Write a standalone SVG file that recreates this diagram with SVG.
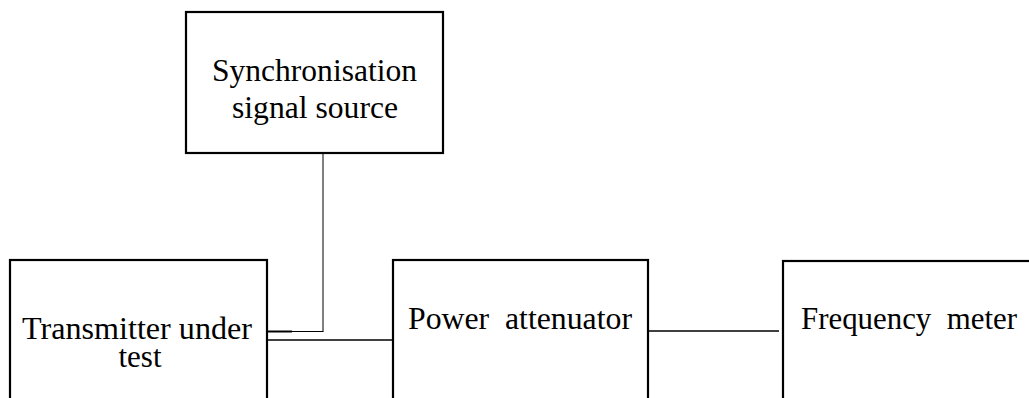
<svg xmlns="http://www.w3.org/2000/svg" width="1029" height="398" viewBox="0 0 1029 398">
<style>
.box{fill:#fff;stroke:#000;stroke-width:2.2}
.t{font-family:"Liberation Serif","Times New Roman",serif;font-size:31px;fill:#000;text-anchor:middle;white-space:pre}
.c{stroke:#000;fill:none}
</style>
<rect width="1029" height="398" fill="#fff"/>
<g id="sync">
<rect class="box" x="186" y="12" width="257" height="141"/>
<text class="t" x="314.5" y="81" textLength="205" lengthAdjust="spacingAndGlyphs">Synchronisation</text>
<text class="t" x="315" y="118" textLength="166" lengthAdjust="spacingAndGlyphs">signal source</text>
</g>
<g id="transmitter">
<rect class="box" x="10" y="260" width="257" height="150"/>
<text class="t" x="137" y="339" textLength="230" lengthAdjust="spacingAndGlyphs">Transmitter under</text>
<text class="t" x="140" y="367">test</text>
</g>
<g id="attenuator">
<rect class="box" x="393" y="260" width="255" height="150"/>
<text class="t" x="520" y="329" textLength="224" lengthAdjust="spacingAndGlyphs" xml:space="preserve">Power  attenuator</text>
</g>
<g id="meter">
<rect class="box" x="783" y="261" width="260" height="150"/>
<text class="t" x="909" y="329" textLength="216" lengthAdjust="spacingAndGlyphs" xml:space="preserve">Frequency  meter</text>
</g>
<g id="connectors">
<line class="c" x1="323" y1="153" x2="323" y2="331.5" stroke-width="1"/>
<line class="c" x1="268" y1="331.5" x2="323.5" y2="331.5" stroke-width="1.2"/>
<line class="c" x1="268" y1="331.5" x2="292" y2="331.5" stroke-width="2"/>
<line class="c" x1="268" y1="340" x2="393" y2="340" stroke-width="1.5"/>
<line class="c" x1="649" y1="331" x2="779" y2="331" stroke-width="1.5"/>
</g>
</svg>
